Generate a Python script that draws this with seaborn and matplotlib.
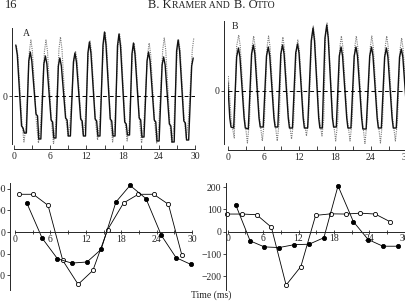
import seaborn as sns
import matplotlib.pyplot as plt
from matplotlib.offsetbox import TextArea, HPacker, AnnotationBbox

# ---- top panels: EOD waveforms (vertices, arbitrary units)
a_solid_t = [0.3, 0.55, 1.25, 1.5, 1.7, 2.05, 2.45,
             2.7, 2.95, 3.65, 3.9, 4.1, 4.45, 4.95,
             5.2, 5.45, 6.15, 6.4, 6.6, 6.95, 7.35,
             7.6, 7.85, 8.55, 8.8, 9.0, 9.35, 9.85,
             10.1, 10.35, 11.05, 11.3, 11.5, 11.85, 12.25,
             12.5, 12.75, 13.45, 13.7, 13.9, 14.25, 14.75,
             15.0, 15.25, 15.95, 16.2, 16.4, 16.75, 17.15,
             17.4, 17.65, 18.35, 18.6, 18.8, 19.15, 19.55,
             19.8, 20.05, 20.75, 21.0, 21.2, 21.55, 22.05,
             22.3, 22.55, 23.25, 23.5, 23.7, 24.05, 24.55,
             24.8, 25.05, 25.75, 26.0, 26.2, 26.55, 26.95,
             27.2, 27.45, 28.15, 28.4, 28.6, 28.95, 29.45,
             29.7]
a_solid_v = [51, 41, -30, -32, -37, -37, 35,
             44, 35, -18, -20, -43, -43, 32,
             40, 32, -24, -26, -42, -42, 30,
             38, 30, -22, -24, -40, -40, 34,
             43, 34, -23, -25, -40, -40, 43,
             54, 43, -23, -25, -40, -40, 51,
             64, 51, -23, -25, -40, -40, 50,
             62, 50, -26, -28, -39, -39, 42,
             53, 42, -22, -24, -41, -41, 35,
             44, 35, -24, -26, -45, -45, 31,
             39, 31, -28, -30, -46, -46, 45,
             56, 45, -25, -27, -44, -44, 30,
             38]
a_dot_t = [0.4, 0.65, 1.3, 1.65, 2.0, 2.55,
           2.8, 3.05, 3.7, 4.05, 4.4, 5.05,
           5.3, 5.55, 6.2, 6.55, 6.9, 7.45,
           7.7, 7.95, 8.6, 8.95, 9.3, 9.95,
           10.2, 10.45, 11.1, 11.45, 11.8, 12.35,
           12.6, 12.85, 13.5, 13.85, 14.2, 14.85,
           15.1, 15.35, 16.0, 16.35, 16.7, 17.25,
           17.5, 17.75, 18.4, 18.75, 19.1, 19.65,
           19.9, 20.15, 20.8, 21.15, 21.5, 22.15,
           22.4, 22.65, 23.3, 23.65, 24.0, 24.65,
           24.9, 25.15, 25.8, 26.15, 26.5, 27.05,
           27.3, 27.55, 28.2, 28.55, 28.9, 29.55,
           29.8]
a_dot_v = [50, 40, -25, -46, -30, 45,
           56, 45, -25, -47, -30, 45,
           56, 45, -25, -48, -30, 47,
           59, 47, -22, -40, -26, 36,
           45, 36, -22, -38, -25, 44,
           55, 44, -25, -44, -28, 51,
           64, 51, -25, -46, -30, 50,
           62, 50, -25, -45, -30, 42,
           53, 42, -25, -47, -30, 42,
           53, 42, -25, -47, -30, 46,
           58, 46, -25, -47, -30, 45,
           56, 45, -23, -42, -26, 46,
           58]

b_solid_t = [0.0, 0.35, 0.55, 1.0, 1.5,
             1.8, 2.05, 2.75, 2.95, 3.45, 4.0,
             4.3, 4.55, 5.25, 5.45, 5.95, 6.5,
             6.8, 7.05, 7.75, 7.95, 8.4, 8.9,
             9.2, 9.45, 10.15, 10.35, 10.85, 11.4,
             11.7, 11.95, 12.65, 12.85, 13.4, 14.0,
             14.3, 14.55, 15.25, 15.45, 15.85, 16.3,
             16.6, 16.85, 17.55, 17.75, 18.2, 18.7,
             19.0, 19.25, 19.95, 20.15, 20.65, 21.2,
             21.5, 21.75, 22.45, 22.65, 23.2, 23.8,
             24.1, 24.35, 25.05, 25.25, 25.75, 26.3,
             26.6, 26.85, 27.55, 27.75, 28.25, 28.8,
             29.1, 29.35, 30.0]
b_solid_v = [9, -27, -36, -37, 34,
             43, 34, -27, -37, -38, 37,
             46, 37, -27, -36, -36, 35,
             44, 35, -27, -36, -36, 37,
             46, 37, -27, -37, -37, 38,
             47, 38, -27, -37, -37, 50,
             63, 50, -27, -37, -37, 53,
             66, 53, -27, -36, -36, 35,
             44, 35, -27, -37, -37, 35,
             44, 35, -27, -38, -38, 35,
             44, 35, -27, -37, -37, 34,
             43, 34, -27, -37, -37, 34,
             42, 34, -20]
b_dot_t = [0.1, 0.6, 1.1, 1.5,
           1.85, 2.1, 2.8, 3.3, 3.65, 4.1,
           4.35, 4.6, 5.3, 5.8, 6.15, 6.6,
           6.85, 7.1, 7.8, 8.3, 8.65, 9.0,
           9.25, 9.5, 10.2, 10.7, 11.05, 11.5,
           11.75, 12.0, 12.7, 13.2, 13.55, 14.1,
           14.35, 14.6, 15.3, 15.8, 16.1, 16.4,
           16.65, 16.9, 17.6, 18.1, 18.45, 18.8,
           19.05, 19.3, 20.0, 20.5, 20.85, 21.3,
           21.55, 21.8, 22.5, 23.0, 23.35, 23.9,
           24.15, 24.4, 25.1, 25.6, 25.95, 26.4,
           26.65, 26.9, 27.6, 28.1, 28.45, 28.9,
           29.15, 29.4, 30.0]
b_dot_v = [15, -30, -47, 45,
           56, 45, -25, -52, -30, 44,
           55, 44, -25, -50, -30, 44,
           55, 44, -25, -50, -30, 43,
           54, 43, -25, -48, -30, 41,
           51, 41, -25, -45, -28, 52,
           65, 52, -25, -45, -28, 54,
           68, 54, -25, -50, -30, 44,
           55, 44, -25, -50, -30, 44,
           55, 44, -25, -53, -30, 44,
           55, 44, -25, -52, -30, 44,
           55, 44, -25, -50, -30, 42,
           53, 42, -10]

# ---- bottom panels
c_open_t = [0.6, 3.1, 5.6, 8.1, 10.7, 13.2, 15.7, 18.4, 20.9, 23.5, 26.0, 28.3]
c_open_v = [174, 174, 123, -131, -241, -177, 11, 134, 174, 174, 128, -108]
c_fill_t = [2.0, 4.6, 7.2, 9.6, 12.2, 14.6, 17.1, 19.5, 22.2, 24.8, 27.3, 29.8]
c_fill_v = [134, -28, -123, -143, -138, -80, 138, 215, 154, -15, -118, -149]

d_open_t = [-0.2, 2.5, 4.9, 7.4, 9.9, 12.4, 14.9, 17.5, 20.0, 22.5, 25.0, 27.5]
d_open_v = [79, 79, 76, 20, -239, -156, 73, 80, 79, 83, 79, 45]
d_fill_t = [1.35, 3.8, 6.2, 8.7, 11.3, 13.8, 16.3, 18.7, 21.3, 23.8, 26.3, 28.9]
d_fill_v = [121, -41, -68, -71, -58, -56, -27, 205, 45, -35, -65, -65]

x_major = [0, 6, 12, 18, 24, 30]
x_minor = [3, 9, 15, 21, 27]
y_ticks_bottom = [-200, -100, 0, 100, 200]

W, H = 405, 301
sns.set_style("ticks")
plt.rcParams['font.family'] = ['Liberation Serif', 'DejaVu Serif']
plt.rcParams['font.size'] = 7
plt.rcParams['axes.linewidth'] = 0.7

fig = plt.figure(figsize=(W / 100, H / 100), dpi=100)


def px_axes(left, top, right, bottom):
    return fig.add_axes([left / W, 1 - bottom / H, (right - left) / W, (bottom - top) / H])


def style_trace_axes(ax, ylim, left_out, bottom_out):
    ax.set_xlim(0, 30)
    ax.set_ylim(*ylim)
    ax.axhline(0, color='k', lw=0.7, ls=(0, (4, 3)))
    for s in ['top', 'right']:
        ax.spines[s].set_visible(False)
    ax.spines['left'].set_position(('outward', left_out))
    ax.spines['bottom'].set_position(('outward', bottom_out))
    ax.spines['bottom'].set_bounds(0, 30)
    ax.set_xticks(x_major)
    ax.set_xticks(x_minor, minor=True)
    ax.set_yticks([0])
    ax.tick_params(axis='x', which='both', direction='in', length=3, width=0.6, pad=2.5, labelsize=7)
    ax.tick_params(axis='y', direction='out', length=2, width=0.6, pad=1.5, labelsize=7)
    ax.set_xlabel('')
    ax.set_ylabel('')


def style_phase_axes(ax, ylim, left_out):
    ax.set_xlim(0, 30)
    ax.set_ylim(*ylim)
    for s in ['top', 'right']:
        ax.spines[s].set_visible(False)
    ax.spines['left'].set_position(('outward', left_out))
    ax.spines['bottom'].set_position(('data', 0))
    ax.spines['bottom'].set_bounds(0, 30)
    ax.set_xticks(x_major)
    ax.set_xticks(x_minor, minor=True)
    ax.set_yticks(y_ticks_bottom)
    ax.tick_params(axis='x', which='both', direction='inout', length=3, width=0.6, pad=0.5, labelsize=7)
    ax.tick_params(axis='y', direction='out', length=2, width=0.6, pad=1, labelsize=7)
    ax.set_xlabel('')
    ax.set_ylabel('')


dot_style = dict(color='#7a7a7a', lw=0.8, ls=(0, (1, 1)))
solid_style = dict(color='#111111', lw=1.0)

# A
ax_a = px_axes(14, 28, 195, 144)
sns.lineplot(x=a_dot_t, y=a_dot_v, ax=ax_a, sort=False, estimator=None, **dot_style)
sns.lineplot(x=a_solid_t, y=a_solid_v, ax=ax_a, sort=False, estimator=None, **solid_style)
style_trace_axes(ax_a, (-48, 68), 1.4, 3.6)
ax_a.text(0.05, 0.99, 'A', transform=ax_a.transAxes, fontsize=7, va='top')

# B
ax_b = px_axes(227.7, 21, 406.7, 144)
sns.lineplot(x=b_dot_t, y=b_dot_v, ax=ax_b, sort=False, estimator=None, **dot_style)
sns.lineplot(x=b_solid_t, y=b_solid_v, ax=ax_b, sort=False, estimator=None, **solid_style)
style_trace_axes(ax_b, (-53, 70), 2.6, 4.3)
ax_b.text(0.02, 0.99, 'B', transform=ax_b.transAxes, fontsize=7, va='top')

open_style = dict(color='k', lw=0.6, marker='o', markersize=3, markerfacecolor='white',
                  markeredgecolor='k', markeredgewidth=0.6, clip_on=False)
fill_style = dict(color='k', lw=0.6, marker='o', markersize=3, markerfacecolor='k',
                  markeredgecolor='k', markeredgewidth=0.6, clip_on=False)

# bottom left
ax_c = px_axes(15, 183, 192, 290)
sns.lineplot(x=c_open_t, y=c_open_v, ax=ax_c, sort=False, estimator=None, **open_style)
sns.lineplot(x=c_fill_t, y=c_fill_v, ax=ax_c, sort=False, estimator=None, **fill_style)
style_phase_axes(ax_c, (-267, 226), 3.6)

# bottom right
ax_d = px_axes(227.7, 183, 404.7, 290)
sns.lineplot(x=d_open_t, y=d_open_v, ax=ax_d, sort=False, estimator=None, **open_style)
sns.lineplot(x=d_fill_t, y=d_fill_v, ax=ax_d, sort=False, estimator=None, **fill_style)
style_phase_axes(ax_d, (-261, 218), 1.4)

fig.text(211 / W, 1 - 295 / H, 'Time (ms)', ha='center', va='center', fontsize=7)

# running head with small caps
fig.text(5 / W, 1 - 8 / H, '16', fontsize=9, va='baseline', color='#222222')
big = dict(fontsize=9, color='#222222')
small = dict(fontsize=7, color='#222222')
name1 = HPacker(children=[TextArea('B. K', textprops=big), TextArea('RAMER AND', textprops=small)],
                align='baseline', pad=0, sep=0)
name2 = HPacker(children=[TextArea('B. O', textprops=big), TextArea('TTO', textprops=small)],
                align='baseline', pad=0, sep=0)
head = HPacker(children=[name1, name2], align='baseline', pad=0, sep=3)
fig.add_artist(AnnotationBbox(head, (212 / W, 1 - 9 / H), xycoords='figure fraction',
                              box_alignment=(0.5, 0.15), frameon=False, pad=0))

fig.savefig('out.png', dpi=100)
